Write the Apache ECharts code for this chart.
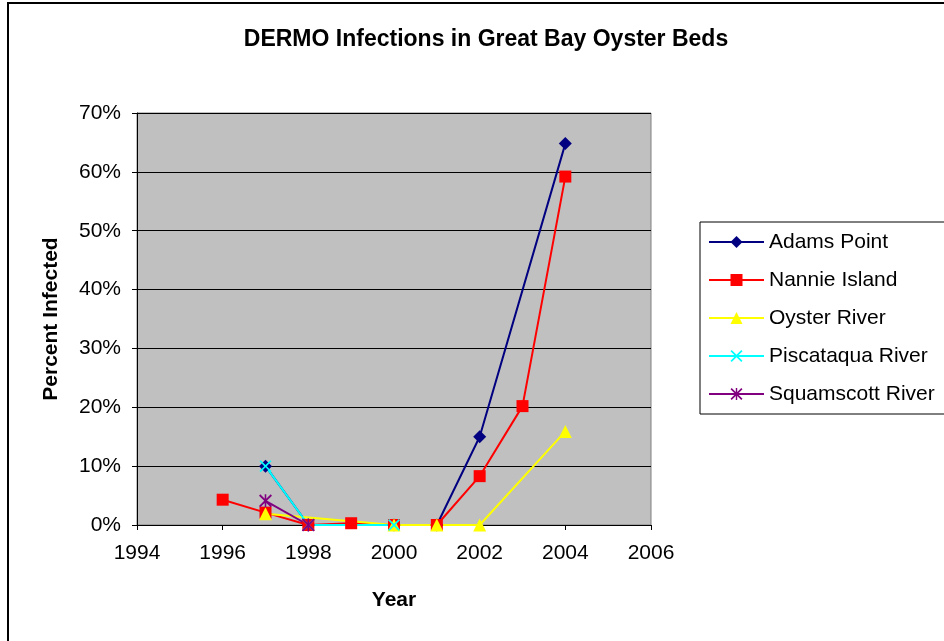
<!DOCTYPE html>
<html lang="en">
<head>
<meta charset="UTF-8">
<title>DERMO Infections</title>
<script src="https://cdn.jsdelivr.net/npm/echarts@6/dist/echarts.min.js"></script>
<style>
  html, body { margin: 0; padding: 0; background: #fff; }
</style>
</head>
<body>
<div id="main" style="width:944px;height:641px;"></div>
<script type="text/javascript">
// data (year, share infected)
var seriesNames = ['Adams Point', 'Nannie Island', 'Oyster River', 'Piscataqua River', 'Squamscott River'];
var adamsYears = [1997, 1998, 2000, 2001, 2002, 2004];
var adamsVals  = [0.10, 0, 0, 0, 0.15, 0.648];
var nannieYears = [1996, 1997, 1998, 1999, 2000, 2001, 2002, 2003, 2004];
var nannieVals  = [0.043, 0.021, 0, 0.003, 0, 0, 0.083, 0.202, 0.592];
var oysterYears = [1997, 2000, 2001, 2002, 2004];
var oysterVals  = [0.019, 0, 0, 0, 0.159];
var piscYears = [1997, 1998, 2000];
var piscVals  = [0.10, 0, 0];
var squamYears = [1997, 1998];
var squamVals  = [0.041, 0];
var yearTicks = [1994, 1996, 1998, 2000, 2002, 2004, 2006];

var FONT = 'Liberation Sans, Arial, sans-serif';
var xMark = 'path://M0,1 L1,0 L5,4 L9,0 L10,1 L6,5 L10,9 L9,10 L5,6 L1,10 L0,9 L4,5 Z';
var starMark = 'path://M0,1 L1,0 L5,4 L9,0 L10,1 L6,5 L10,9 L9,10 L5,6 L1,10 L0,9 L4,5 Z M4.4,0 L5.6,0 L5.6,10 L4.4,10 Z';

function pairs(xs, ys) {
  var out = [];
  for (var i = 0; i < xs.length; i++) out.push([xs[i], ys[i]]);
  return out;
}

function makeSeries(name, xs, ys, color, symbol, size) {
  return {
    name: name,
    type: 'line',
    data: pairs(xs, ys),
    symbol: symbol,
    symbolSize: size,
    showAllSymbol: true,
    lineStyle: { color: color, width: 2 },
    itemStyle: { color: color, borderWidth: 0 },
    emphasis: { disabled: true },
    animation: false
  };
}

var myChart = echarts.init(document.getElementById('main'));

myChart.setOption({
  animation: false,
  title: {
    text: 'DERMO Infections in Great Bay Oyster Beds',
    left: 481,
    textAlign: 'center',
    top: 23,
    textStyle: { fontFamily: FONT, fontSize: 23, fontWeight: 'bold', color: '#000' }
  },
  graphic: [{
    type: 'rect',
    shape: { x: 8, y: 3, width: 1000, height: 1000 },
    style: { fill: 'none', stroke: '#000', lineWidth: 2 },
    silent: true
  }],
  legend: {
    orient: 'vertical',
    left: 700,
    top: 222,
    padding: [9, 14, 9, 8],
    itemWidth: 55,
    itemHeight: 15,
    itemGap: 16,
    borderColor: '#000',
    borderWidth: 1,
    data: seriesNames,
    textStyle: { fontFamily: FONT, fontSize: 21, color: '#000', lineHeight: 22 }
  },
  grid: {
    left: 137,
    right: 293,
    top: 113,
    bottom: 116,
    show: true,
    backgroundColor: '#c0c0c0',
    borderColor: '#808080',
    borderWidth: 1
  },
  xAxis: {
    type: 'value',
    min: 1994,
    max: 2006,
    interval: 2,
    name: 'Year',
    nameLocation: 'middle',
    nameGap: 65,
    nameTextStyle: { fontFamily: FONT, fontSize: 21, fontWeight: 'bold', color: '#000' },
    axisLine: { lineStyle: { color: '#000', width: 1 } },
    axisTick: { show: true, inside: false, length: 5, lineStyle: { color: '#000' } },
    axisLabel: {
      fontFamily: FONT, fontSize: 21, color: '#000', margin: 18,
      formatter: function (v) { return yearTicks.indexOf(v) >= 0 ? String(v) : ''; }
    },
    splitLine: { show: false }
  },
  yAxis: {
    type: 'value',
    min: 0,
    max: 0.7,
    interval: 0.1,
    name: 'Percent Infected',
    nameLocation: 'middle',
    nameGap: 75,
    nameTextStyle: { fontFamily: FONT, fontSize: 21, fontWeight: 'bold', color: '#000' },
    axisLine: { show: true, lineStyle: { color: '#000', width: 1 } },
    axisTick: { show: true, inside: false, length: 5, lineStyle: { color: '#000' } },
    axisLabel: {
      fontFamily: FONT, fontSize: 21, color: '#000', margin: 16,
      formatter: function (v) { return Math.round(v * 100) + '%'; }
    },
    splitLine: { show: true, lineStyle: { color: '#000', width: 1 } }
  },
  series: [
    makeSeries(seriesNames[0], adamsYears, adamsVals, '#000080', 'diamond', 13),
    makeSeries(seriesNames[1], nannieYears, nannieVals, '#ff0000', 'rect', 12),
    makeSeries(seriesNames[2], oysterYears, oysterVals, '#ffff00', 'triangle', 13),
    makeSeries(seriesNames[3], piscYears, piscVals, '#00ffff', xMark, 12),
    makeSeries(seriesNames[4], squamYears, squamVals, '#800080', starMark, 13)
  ]
});
</script>
</body>
</html>
